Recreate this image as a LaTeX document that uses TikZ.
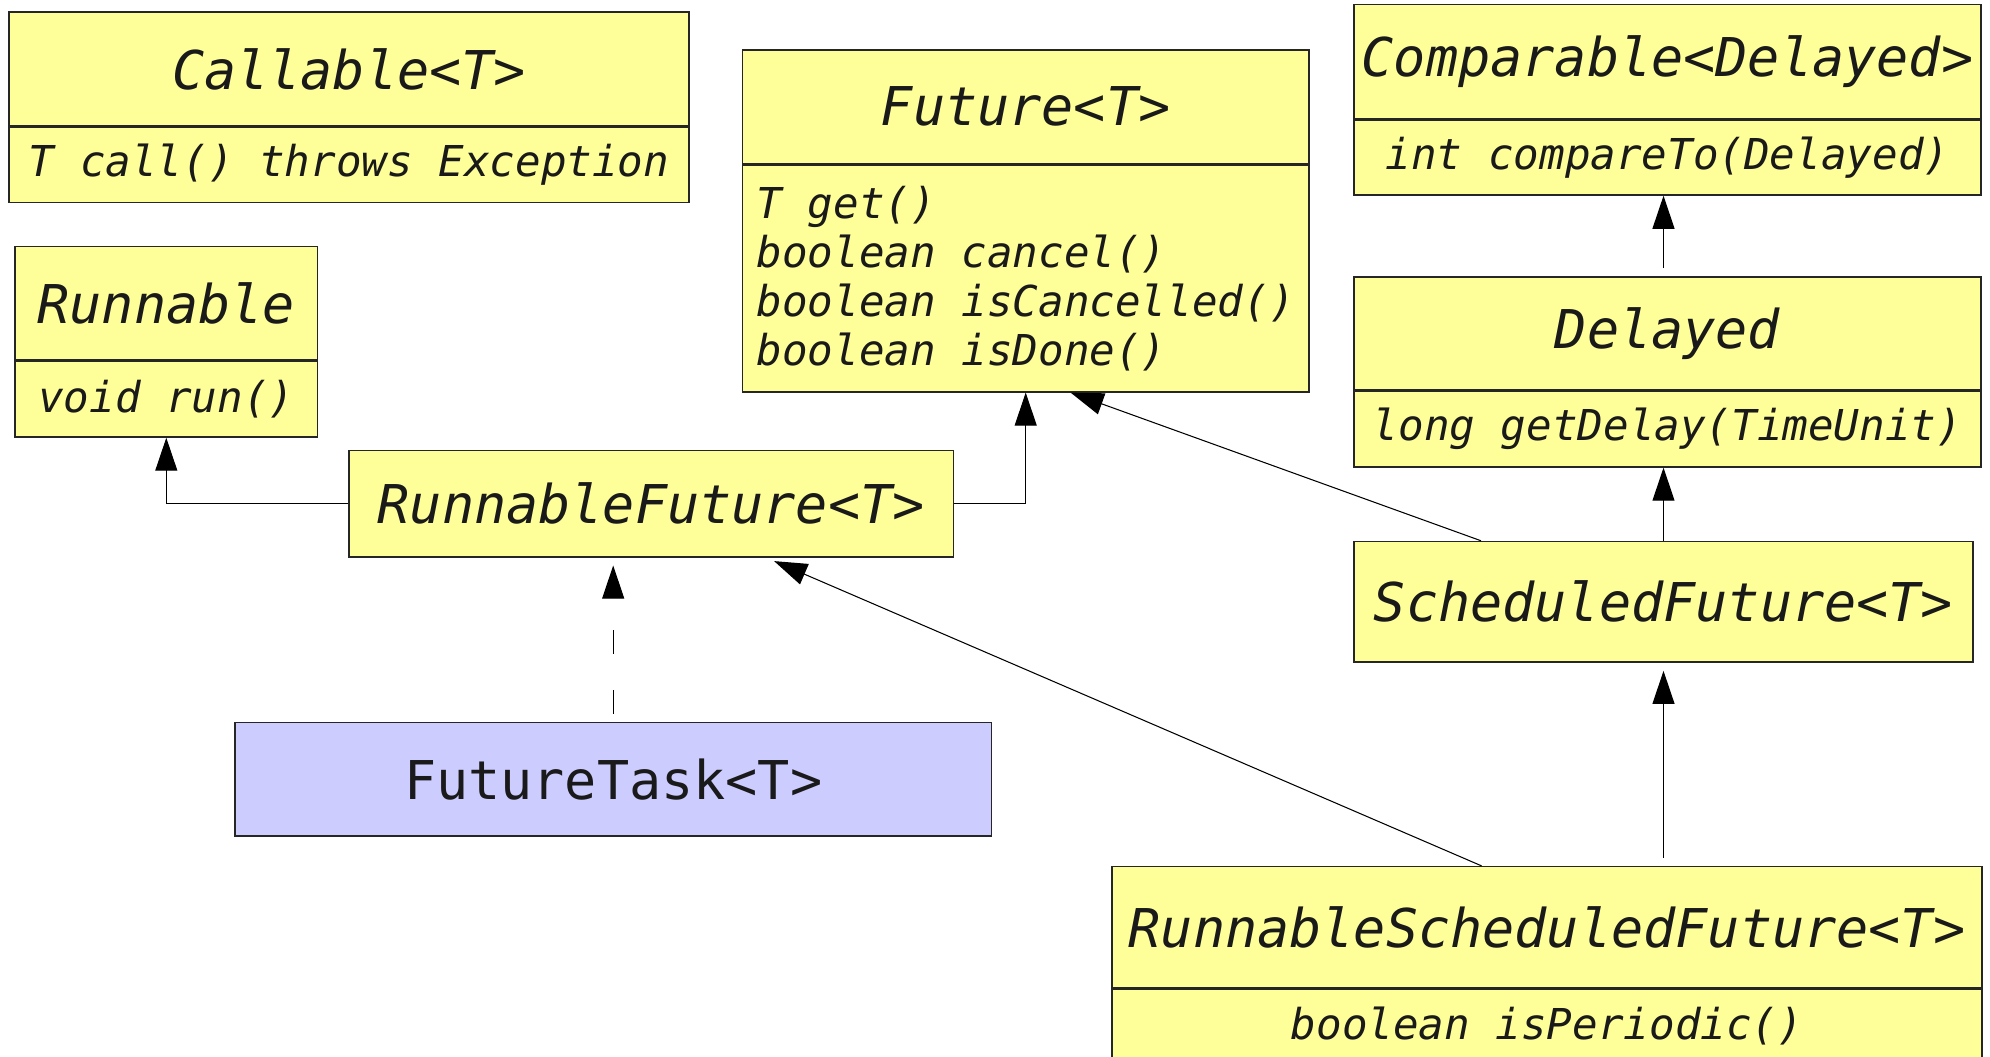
\documentclass[tikz,border=0pt]{standalone}
\usepackage{fontspec}
\setmonofont{DejaVu Sans Mono}
\usepackage{tikz}
\usetikzlibrary{arrows.meta, calc}

\definecolor{umlyellow}{HTML}{FFFF99}
\definecolor{umlblue}{HTML}{CCCCFF}
\definecolor{umltext}{HTML}{1A1A1A}

\tikzset{
  box/.style={draw=black!85, line width=0.45pt, fill=umlyellow, inner sep=0pt,
    text=umltext},
  head/.style={box, font=\fontsize{15.2}{18}\selectfont\ttfamily\itshape},
  body/.style={box, anchor=north, minimum height=0.753cm,
    font=\fontsize{12.1}{13.9}\selectfont\ttfamily\itshape},
  inherit/.style={-{Triangle[length=0.33cm,width=0.22cm]}, line width=0.3pt},
  realize/.style={inherit, dash pattern=on 0.24cm off 0.36cm}
}

\begin{document}
\begin{tikzpicture}[x=0.01cm, y=-0.01cm]
  \useasboundingbox (0,0) rectangle (1990,1056);

  \node[head, minimum width=6.80cm, minimum height=1.134cm] (callable) at (349,69) {Callable<T>};
  \node[body, minimum width=6.80cm] (callableM) at (callable.south) {T call() throws Exception};

  \node[head, minimum width=3.02cm, minimum height=1.133cm] (runnable) at (166.3,303.3) {Runnable};
  \node[body, minimum width=3.02cm] (runnableM) at (runnable.south) {void run()};

  \node[head, minimum width=5.665cm, minimum height=1.133cm] (future) at (1025.7,106.7) {Future<T>};
  \node[body, minimum width=5.665cm, minimum height=2.267cm, align=left] (futureM) at (future.south)
    {T get()\\boolean cancel()\\boolean isCancelled()\\boolean isDone()};

  \node[head, minimum width=6.27cm, minimum height=1.138cm] (comparable) at (1667.5,61.4) {Comparable<Delayed>};
  \node[body, minimum width=6.27cm, minimum height=0.75cm] (comparableM) at (comparable.south) {int compareTo(Delayed)};

  \node[head, minimum width=6.27cm, minimum height=1.129cm] (delayed) at (1667.5,333.3) {Delayed};
  \node[body, minimum width=6.27cm, minimum height=0.755cm] (delayedM) at (delayed.south) {long getDelay(TimeUnit)};

  \node[head, minimum width=6.19cm, minimum height=1.205cm] (sf) at (1663.5,601.8) {ScheduledFuture<T>};

  \node[head, minimum width=6.045cm, minimum height=1.06cm] (rf) at (651.2,503.7) {RunnableFuture<T>};

  \node[head, fill=umlblue, font=\fontsize{15.2}{18}\selectfont\ttfamily,
    minimum width=7.565cm, minimum height=1.133cm] (ft) at (613.2,779.3) {FutureTask<T>};

  \node[head, minimum width=8.70cm, minimum height=1.206cm] (rsf) at (1547,927) {RunnableScheduledFuture<T>};
  \node[body, minimum width=8.70cm, minimum height=0.75cm] (rsfM) at (rsf.south) {boolean isPeriodic()};

  \draw[inherit] (rf.west) -| (runnableM.south);
  \draw[inherit] (rf.east) -| (futureM.south);
  \draw[inherit] ($(sf.north west)!0.206!(sf.north east)$) -- ($(futureM.south west)!0.579!(futureM.south east)$);
  \draw[inherit] (sf.north) -- (sf.north |- delayedM.south);
  \draw[inherit, shorten <=0.08cm] (sf.north |- delayed.north) -- (sf.north |- comparableM.south);
  \draw[realize, shorten <=0.08cm, shorten >=0.08cm] (ft.north) -- (ft.north |- rf.south);
  \draw[inherit, shorten >=0.09cm] ($(rsf.north west)!0.425!(rsf.north east)$) -- ($(rf.south west)!0.689!(rf.south east)$);
  \draw[inherit, shorten <=0.08cm, shorten >=0.08cm] (sf.south |- rsf.north) -- (sf.south);
\end{tikzpicture}
\end{document}
